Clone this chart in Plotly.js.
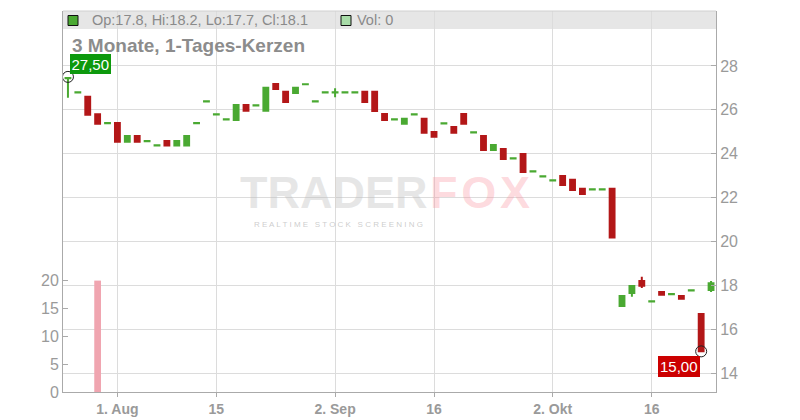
<!DOCTYPE html>
<html>
<head>
<meta charset="utf-8">
<script src="https://cdn.plot.ly/plotly-3.0.1.min.js"></script>
<style>html,body{margin:0;padding:0;background:#fff;}#chart{width:800px;height:420px;}</style>
</head>
<body>
<div id="chart"></div>
<script>
// ---- data ----
var dates = [
 '2024-07-25','2024-07-26','2024-07-29','2024-07-30','2024-07-31',
 '2024-08-01','2024-08-02','2024-08-05','2024-08-06','2024-08-07','2024-08-08','2024-08-09',
 '2024-08-12','2024-08-13','2024-08-14','2024-08-15','2024-08-16',
 '2024-08-19','2024-08-20','2024-08-21','2024-08-22','2024-08-23',
 '2024-08-26','2024-08-27','2024-08-28','2024-08-29','2024-08-30',
 '2024-09-02','2024-09-03','2024-09-04','2024-09-05','2024-09-06',
 '2024-09-09','2024-09-10','2024-09-11','2024-09-12','2024-09-13',
 '2024-09-16','2024-09-17','2024-09-18','2024-09-19','2024-09-20',
 '2024-09-23','2024-09-24','2024-09-25','2024-09-26','2024-09-27',
 '2024-09-30','2024-10-01','2024-10-02','2024-10-03','2024-10-04',
 '2024-10-07','2024-10-08','2024-10-09','2024-10-10','2024-10-11',
 '2024-10-14','2024-10-15','2024-10-16','2024-10-17','2024-10-18',
 '2024-10-21','2024-10-22','2024-10-23','2024-10-24'
];
var openP = [
 27.44,26.79,26.60,25.80,25.39,
 25.40,24.55,24.81,24.57,24.38,24.58,24.37,
 24.37,25.39,26.38,25.79,25.56,
 25.54,26.22,26.20,25.96,27.18,
 26.82,26.77,27.16,26.38,26.79,
 26.79,26.79,26.79,26.82,26.82,
 25.81,25.56,25.36,25.79,25.59,
 24.99,25.38,25.22,25.81,24.97,
 24.81,24.17,24.22,23.78,23.99,
 23.19,22.96,22.78,22.99,22.81,
 22.40,22.37,22.37,22.40,17.07,
 17.66,18.20,17.27,17.70,17.60,
 17.52,17.77,16.70,17.80
];
var highP = [
 27.50,26.80,26.60,25.80,25.40,
 25.40,24.81,24.81,24.58,24.39,24.58,24.58,
 24.81,25.40,26.39,25.80,25.57,
 26.22,26.22,26.21,27.00,27.18,
 26.82,27.00,27.17,26.39,26.80,
 26.98,26.80,26.80,26.82,26.82,
 25.81,25.57,25.59,25.80,25.59,
 24.99,25.39,25.22,25.81,24.98,
 24.81,24.40,24.22,23.79,23.99,
 23.20,22.97,22.79,22.99,22.81,
 22.40,22.38,22.38,22.40,17.52,
 18.02,18.40,17.28,17.70,17.61,
 17.52,17.78,16.70,18.20
];
var lowP = [
 26.55,26.79,25.78,25.37,25.39,
 24.55,24.55,24.55,24.57,24.38,24.37,24.37,
 24.37,25.39,26.38,25.79,25.56,
 25.54,25.96,26.20,25.96,26.95,
 26.36,26.77,27.16,26.38,26.79,
 26.57,26.79,26.79,26.36,25.95,
 25.54,25.56,25.36,25.79,24.96,
 24.77,25.38,24.96,25.37,24.97,
 24.17,24.17,23.76,23.78,23.17,
 23.19,22.96,22.78,22.58,22.35,
 22.17,22.37,22.37,20.18,17.07,
 17.49,17.89,17.27,17.58,17.60,
 17.40,17.77,15.00,17.70
];
var closeP = [
 27.45,26.80,25.78,25.37,25.40,
 24.55,24.81,24.55,24.58,24.39,24.37,24.58,
 24.81,25.40,26.39,25.80,25.57,
 26.22,25.96,26.21,27.00,26.95,
 26.36,27.00,27.17,26.39,26.80,
 26.80,26.80,26.80,26.36,25.95,
 25.54,25.57,25.59,25.80,24.96,
 24.77,25.39,24.96,25.37,24.98,
 24.17,24.40,23.76,23.79,23.17,
 23.20,22.97,22.79,22.58,22.35,
 22.17,22.38,22.38,20.18,17.52,
 17.98,17.99,17.28,17.58,17.61,
 17.40,17.78,15.00,18.10
];
var volume = [
 0,0,0,20,0,
 0,0,0,0,0,0,0,
 0,0,0,0,0,
 0,0,0,0,0,
 0,0,0,0,0,
 0,0,0,0,0,
 0,0,0,0,0,
 0,0,0,0,0,
 0,0,0,0,0,
 0,0,0,0,0,
 0,0,0,0,0,
 0,0,0,0,0,
 0,0,0,0
];
var xTickVals = ['2024-08-01','2024-08-15','2024-09-02','2024-09-16','2024-10-02','2024-10-16'];
var xTickText = ['1. Aug','15','2. Sep','16','2. Okt','16'];
var priceTicks = [14,16,18,20,22,24,26,28];
var volTicks = [0,5,10,15,20];
var chartTitle = '3 Monate, 1-Tages-Kerzen';

// ---- derived ----
var n = dates.length;
var last = n - 1;
var maxHigh = Math.max.apply(null, highP);
var minLow = Math.min.apply(null, lowP);
var maxIdx = highP.indexOf(maxHigh);
var minIdx = lowP.indexOf(minLow);
function fmt(v, d) { return v.toFixed(d).replace('.', ','); }
var headerText = 'Op:' + openP[last].toFixed(1) + ', Hi:' + highP[last].toFixed(1) +
  ', Lo:' + lowP[last].toFixed(1) + ', Cl:' + closeP[last].toFixed(1);
var volText = 'Vol: ' + volume[last];

// plot box in pixels
var L = 63, R = 716, T = 11, B = 392;
function px(x) { return (x - L) / (R - L); }
function py(y) { return (B - y) / (B - T); }

var GREEN = '#4aa932', RED = '#b31718', GRAY = '#9a9a9a';
var FONT = 'Liberation Sans, Arial, Helvetica, sans-serif';

var traces = [
  {
    type: 'candlestick', x: dates, open: openP, high: highP, low: lowP, close: closeP,
    xaxis: 'x', yaxis: 'y',
    increasing: { line: { color: GREEN, width: 2 }, fillcolor: GREEN },
    decreasing: { line: { color: RED, width: 2 }, fillcolor: RED },
    whiskerwidth: 0, hoverinfo: 'skip', showlegend: false
  },
  {
    type: 'bar', x: dates, y: volume, xaxis: 'x', yaxis: 'y2',
    marker: { color: '#f0a5b0', line: { width: 0 } }, hoverinfo: 'skip', showlegend: false
  },
  {
    type: 'scatter', mode: 'markers', x: [dates[maxIdx], dates[minIdx]], y: [maxHigh, minLow],
    xaxis: 'x', yaxis: 'y',
    marker: { symbol: 'circle-open', size: 11, color: '#222', line: { width: 1, color: '#222' } },
    hoverinfo: 'skip', showlegend: false
  }
];

var layout = {
  width: 800, height: 420,
  margin: { l: L, r: 800 - R, t: T, b: 420 - B, pad: 0 },
  paper_bgcolor: '#ffffff', plot_bgcolor: '#ffffff',
  font: { family: FONT, color: GRAY },
  showlegend: false,
  bargap: 0.32,
  boxgap: 0.3, boxgroupgap: 0.3,
  xaxis: {
    type: 'category', categoryorder: 'trace', range: [-0.5, n - 0.5],
    tickmode: 'array', tickvals: xTickVals, ticktext: xTickText,
    ticks: 'outside', ticklen: 4, tickcolor: '#aaaaaa',
    showgrid: true, gridcolor: '#dcdcdc', gridwidth: 1,
    showline: true, linecolor: '#aaaaaa', linewidth: 1,
    tickfont: { family: FONT, size: 14, color: GRAY, weight: 'bold' },
    rangeslider: { visible: false }, fixedrange: true
  },
  yaxis: {
    side: 'right', range: [13.15, 30.5],
    tickmode: 'array', tickvals: priceTicks,
    ticks: 'inside', ticklen: 5, tickcolor: '#aaaaaa',
    showgrid: true, gridcolor: '#dcdcdc', gridwidth: 1, zeroline: false,
    showline: true, linecolor: '#aaaaaa', linewidth: 1,
    tickfont: { family: FONT, size: 16, color: GRAY }, fixedrange: true
  },
  yaxis2: {
    overlaying: 'y', side: 'left', range: [0, 68.4],
    tickmode: 'array', tickvals: volTicks,
    ticks: 'inside', ticklen: 5, tickcolor: '#aaaaaa',
    showgrid: false, zeroline: false,
    showline: true, linecolor: '#aaaaaa', linewidth: 1,
    tickfont: { family: FONT, size: 16, color: GRAY }, fixedrange: true
  },
  shapes: [
    { type: 'rect', xref: 'paper', yref: 'paper', x0: 0, x1: 1, y0: py(29), y1: 1,
      fillcolor: '#e6e6e6', line: { width: 0 }, layer: 'below' },
    { type: 'line', xref: 'paper', yref: 'paper', x0: 0, x1: 1, y0: 1, y1: 1,
      line: { color: '#d0d0d0', width: 1 } },
    { type: 'rect', xref: 'paper', yref: 'paper', x0: px(68), x1: px(78), y0: py(25.5), y1: py(15.5),
      fillcolor: GREEN, line: { color: '#111', width: 1 } },
    { type: 'rect', xref: 'paper', yref: 'paper', x0: px(341), x1: px(351), y0: py(25.5), y1: py(15.5),
      fillcolor: '#a8dca8', line: { color: '#111', width: 1 } }
  ],
  annotations: [
    { xref: 'paper', yref: 'paper', x: px(90), y: py(20.5), xanchor: 'left', yanchor: 'middle',
      text: headerText, showarrow: false, font: { family: FONT, size: 14.5, color: '#8a8a8a' } },
    { xref: 'paper', yref: 'paper', x: px(354.5), y: py(20.5), xanchor: 'left', yanchor: 'middle',
      text: volText, showarrow: false, font: { family: FONT, size: 14.5, color: '#8a8a8a' } },
    { xref: 'paper', yref: 'paper', x: px(70), y: py(45), xanchor: 'left', yanchor: 'middle',
      text: chartTitle, showarrow: false, font: { family: FONT, size: 19, color: '#8c8c8c', weight: 'bold' } },
    // watermark
    { xref: 'paper', yref: 'paper', x: px(238), y: py(192), xanchor: 'left', yanchor: 'middle',
      text: 'TRADER', showarrow: false, font: { family: FONT, size: 45, color: 'rgba(190,190,190,0.38)', weight: 'bold' } },
    { xref: 'paper', yref: 'paper', x: px(428), y: py(192), xanchor: 'left', yanchor: 'middle',
      text: 'F\u200aO\u200aX', showarrow: false, font: { family: FONT, size: 45, color: 'rgba(250,140,155,0.32)', weight: 'bold' } },
    { xref: 'paper', yref: 'paper', x: px(338), y: py(224), xanchor: 'center', yanchor: 'middle',
      text: 'R E A L T I M E   S T O C K   S C R E E N I N G', showarrow: false,
      font: { family: FONT, size: 8, color: 'rgba(170,170,170,0.6)' } },
    // max / min labels
    { xref: 'x', yref: 'y', x: dates[maxIdx], y: maxHigh, xanchor: 'left', yanchor: 'bottom',
      xshift: 2, yshift: 3, text: fmt(maxHigh, 2), showarrow: false, bgcolor: '#0d990d',
      borderpad: 1.5, borderwidth: 0, font: { family: FONT, size: 15, color: '#ffffff' } },
    { xref: 'x', yref: 'y', x: dates[minIdx], y: minLow, xanchor: 'right', yanchor: 'top',
      xshift: -1, yshift: -5, text: fmt(minLow, 2), showarrow: false, bgcolor: '#cc0000',
      borderpad: 2, borderwidth: 0, font: { family: FONT, size: 15, color: '#ffffff' } }
  ]
};

Plotly.newPlot('chart', traces, layout, { staticPlot: true, displayModeBar: false });
</script>
</body>
</html>
